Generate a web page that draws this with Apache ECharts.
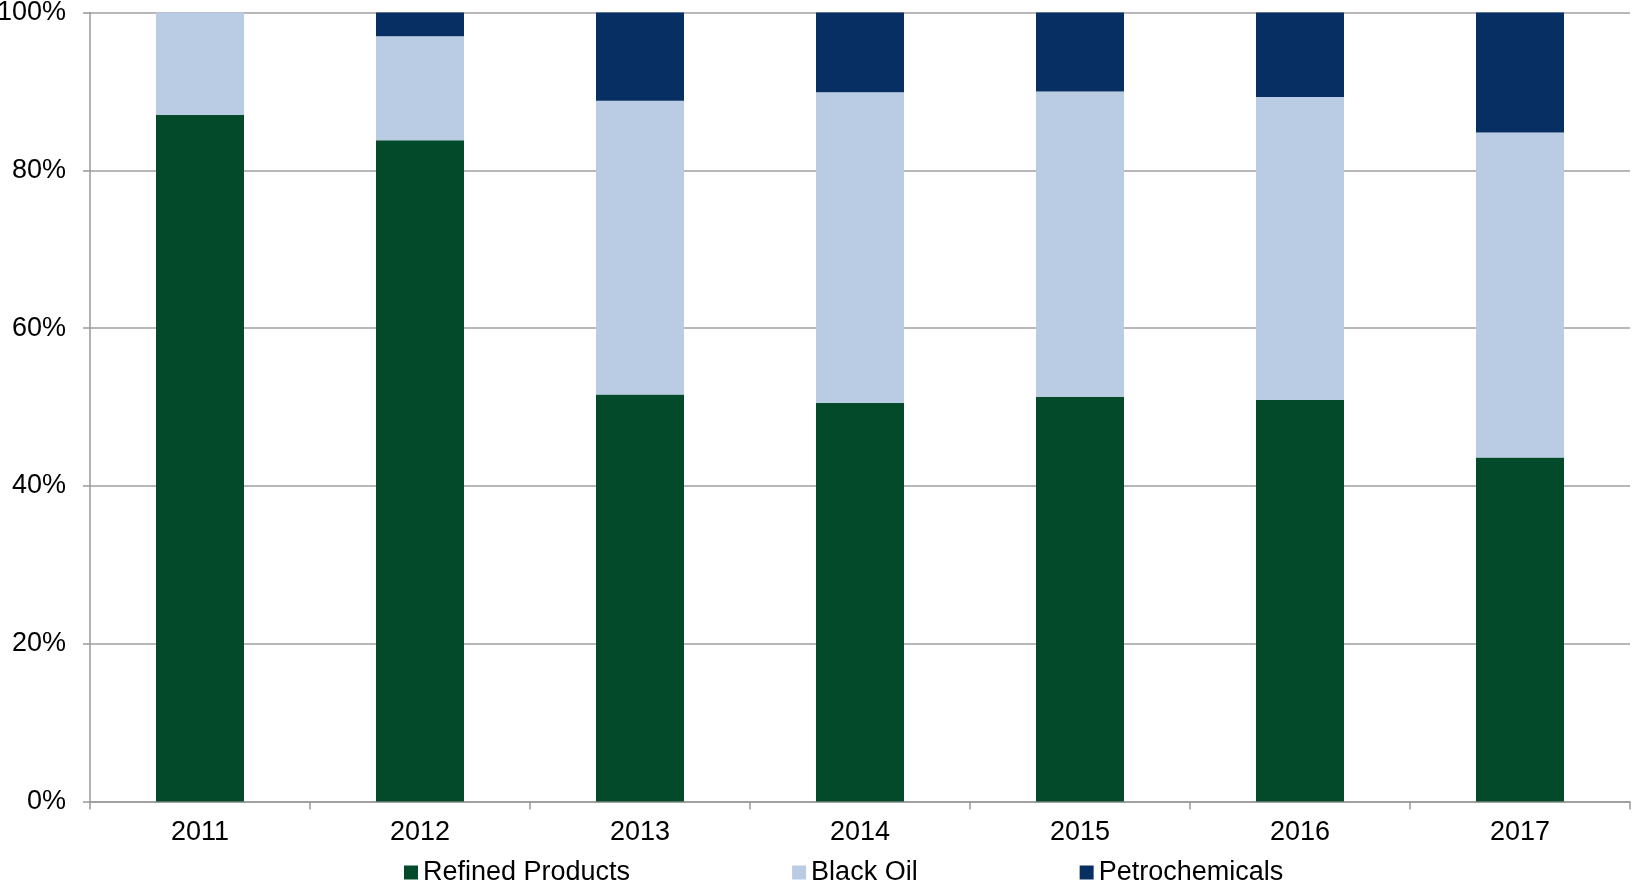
<!DOCTYPE html>
<html><head><meta charset="utf-8">
<script src="https://cdn.jsdelivr.net/npm/echarts@6/dist/echarts.min.js"></script>
<style>html,body{margin:0;padding:0;background:#fff}#c{width:1632px;height:889px}</style>
</head><body><div id="c"></div>
<script>
const categories = ['2011','2012','2013','2014','2015','2016','2017'];
const refinedProducts = [87.0, 83.8, 51.6, 50.5, 51.3, 50.9, 43.6];
const blackOil = [13.0, 13.2, 37.2, 39.4, 38.7, 38.4, 41.2];
const petrochemicals = [0.0, 3.0, 11.2, 10.1, 10.0, 10.7, 15.2];
const yTicks = [0, 20, 40, 60, 80, 100];

const chart = echarts.init(document.getElementById('c'));
const font = 'Liberation Sans, Arial, sans-serif';
function bar(name, data, color){
  return {name, type:'bar', stack:'s', data, barCategoryGap:'60%',
    itemStyle:{color}, emphasis:{disabled:true}};
}
chart.setOption({
  animation:false,
  grid:{left:90, right:2, top:12.5, bottom:87.5, containLabel:false, outerBoundsMode:'none'},
  legend:{bottom:3, left:404, padding:0, itemWidth:14, itemHeight:14, itemGap:162, icon:'rect',
    textStyle:{fontFamily:font, fontSize:27, color:'#000'},
    data:['Refined Products','Black Oil','Petrochemicals']},
  xAxis:{type:'category', data:categories,
    axisLine:{lineStyle:{color:'#999', width:1.5}},
    axisTick:{show:true, length:8, lineStyle:{color:'#999', width:1.5}},
    axisLabel:{fontFamily:font, fontSize:27, color:'#000', margin:18}},
  yAxis:{type:'value', min:yTicks[0], max:yTicks[yTicks.length-1], interval:20,
    axisLine:{show:true, lineStyle:{color:'#999', width:1.5}},
    axisTick:{show:true, length:7, lineStyle:{color:'#999', width:1.5}},
    splitLine:{lineStyle:{color:'#a0a0a0', width:1.5}},
    axisLabel:{fontFamily:font, fontSize:27, color:'#000', margin:24, formatter:v=>v+'%'}},
  series:[
    bar('Refined Products', refinedProducts, '#034a2a'),
    bar('Black Oil', blackOil, '#b9cce4'),
    bar('Petrochemicals', petrochemicals, '#072f63')
  ]
});
</script></body></html>
